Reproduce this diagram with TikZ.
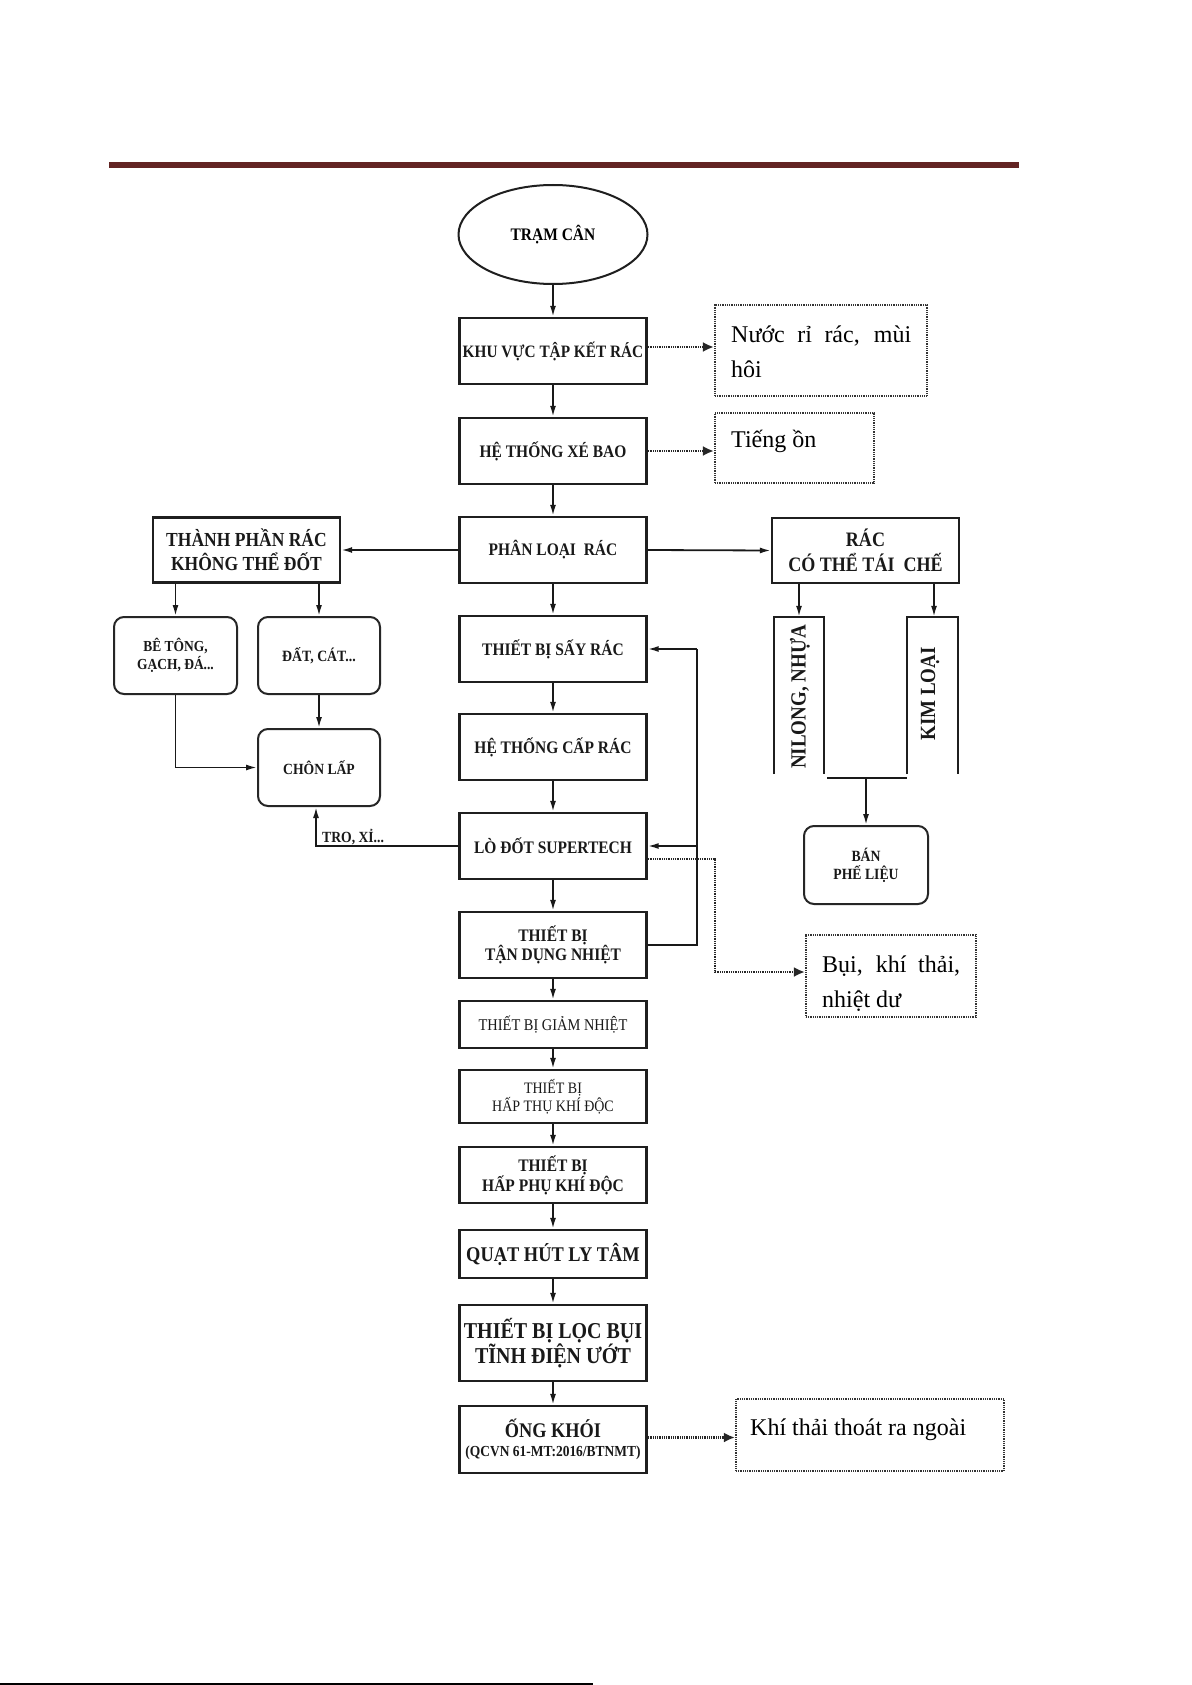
\documentclass[tikz,border=0pt]{standalone}
\usepackage{fontspec}
\setmainfont{Liberation Serif}
\newfontfamily\cond[FakeStretch=0.88]{Liberation Serif}
\usetikzlibrary{arrows.meta,shapes.geometric}
\newcommand{\fsz}[2]{\fontsize{#1}{#2}\selectfont}
\definecolor{hdr}{HTML}{632423}
\begin{document}
\begin{tikzpicture}[x=1pt,y=-1pt,
  mainbox/.style={draw=black!88, line width=2.4pt, minimum width=187pt, inner sep=0pt, align=center, text=black!90},
  rbox/.style={draw=black!85, line width=2pt, rounded corners=10pt, inner sep=0pt, align=center, text=black!90},
  dotbox/.style={draw=black!80, line width=2.2pt, dash pattern=on 0.9pt off 0.9pt, inner sep=0pt},
  arr/.style={draw=black!90, line width=1.8pt, -{Latex[length=11pt,width=6pt]}},
  plain/.style={draw=black!90, line width=1.8pt},
  darr/.style={draw=black!85, line width=2.2pt, dash pattern=on 0.9pt off 0.9pt, -{Latex[length=11pt,width=10pt]}},
  note/.style={inner sep=0pt, anchor=base west, font=\fsz{24}{28}},
]
\useasboundingbox (0,0) rectangle (1191,1685);
\fill[white] (0,0) rectangle (1191,1685);

% header rule
\fill[hdr] (109,162) rectangle (1019,168);

% main column
\node[ellipse, draw=black!88, line width=2pt, minimum width=189pt, minimum height=99pt, inner sep=0pt, font=\cond\bfseries\fsz{17.6}{20}] (tram) at (553,234.5) {TRẠM CÂN};
\node[mainbox, minimum height=66pt, font=\cond\bfseries\fsz{17.4}{19}] (khu) at (553,351) {KHU VỰC TẬP KẾT RÁC};
\node[mainbox, minimum height=66pt, font=\cond\bfseries\fsz{17.6}{19}] (xe) at (553,451) {HỆ THỐNG XÉ BAO};
\node[mainbox, minimum height=66pt, font=\cond\bfseries\fsz{17.6}{19}] (phan) at (553,550) {PHÂN LOẠI~~RÁC};
\node[mainbox, minimum height=66pt, font=\cond\bfseries\fsz{17.6}{19}] (say) at (553,649) {THIẾT BỊ SẤY RÁC};
\node[mainbox, minimum height=66pt, font=\cond\bfseries\fsz{17.6}{19}] (cap) at (553,747) {HỆ THỐNG CẤP RÁC};
\node[mainbox, minimum height=66pt, font=\cond\bfseries\fsz{17.6}{19}] (lo) at (553,846) {LÒ ĐỐT SUPERTECH};
\node[mainbox, minimum height=66pt, font=\cond\bfseries\fsz{17.6}{19.5}] (tan) at (553,945) {THIẾT BỊ\\TẬN DỤNG NHIỆT};
\node[mainbox, minimum height=47pt, font=\cond\fsz{16.4}{18}] (giam) at (553,1024.5) {THIẾT BỊ GIẢM NHIỆT};
\node[mainbox, minimum height=53pt, font=\cond\fsz{15.9}{17.7}] (hapthu) at (553,1096.5) {THIẾT BỊ\\HẤP THỤ KHÍ ĐỘC};
\node[mainbox, minimum height=56pt, font=\cond\bfseries\fsz{17.6}{19}] (happhu) at (553,1175) {THIẾT BỊ\\HẤP PHỤ KHÍ ĐỘC};
\node[mainbox, minimum height=48pt, font=\cond\bfseries\fsz{20.9}{22}] (quat) at (553,1254) {QUẠT HÚT LY TÂM};
\node[mainbox, minimum height=76pt, font=\cond\bfseries\fsz{22.7}{23}] (loc) at (553,1343) {THIẾT BỊ LỌC BỤI\\TĨNH ĐIỆN ƯỚT};
\node[mainbox, minimum height=67pt, font=\cond\bfseries\fsz{20.8}{19}] (ong) at (553,1439.5) {ỐNG KHÓI\\{\fsz{15.3}{18}(QCVN 61-MT:2016/BTNMT)}};

\draw[arr] (tram.south) -- (khu.north);
\draw[arr] (khu) -- (xe);
\draw[arr] (xe) -- (phan);
\draw[arr] (phan) -- (say);
\draw[arr] (say) -- (cap);
\draw[arr] (cap) -- (lo);
\draw[arr] (lo) -- (tan);
\draw[arr] (tan) -- (giam);
\draw[arr] (giam) -- (hapthu);
\draw[arr] (hapthu) -- (happhu);
\draw[arr] (happhu) -- (quat);
\draw[arr] (quat) -- (loc);
\draw[arr] (loc) -- (ong);

% left branch
\node[mainbox, minimum height=65pt, font=\cond\bfseries\fsz{19.9}{24}] (tp) at (246.5,550) {THÀNH PHẦN RÁC\\KHÔNG THỂ ĐỐT};
\node[rbox, minimum width=123pt, minimum height=77pt, font=\cond\bfseries\fsz{15.3}{18.3}] (be) at (175.5,655.5) {BÊ TÔNG,\\GẠCH, ĐÁ...};
\node[rbox, minimum width=122pt, minimum height=77pt, font=\cond\bfseries\fsz{15.7}{18}] (dat) at (319,655.5) {ĐẤT, CÁT...};
\node[rbox, minimum width=122pt, minimum height=77pt, font=\cond\bfseries\fsz{15.5}{18}] (chon) at (319,767.5) {CHÔN LẤP};
\node[inner sep=0pt, anchor=base west, font=\cond\bfseries\fsz{15.5}{16}, text=black!90] (tro) at (322,842) {TRO, XỈ...};

\draw[arr] (phan.west) -- (tp.east);
\draw[arr] (be.north |- tp.south) -- (be.north);
\draw[arr] (dat.north |- tp.south) -- (dat.north);
\draw[arr] (be.south) |- (chon.west);
\draw[arr] (dat) -- (chon);
\draw[arr] (lo.west) -| ([xshift=-3pt]chon.south);

% right branch
\node[mainbox, minimum height=65pt, font=\cond\bfseries\fsz{20.5}{25}] (tc) at (865.5,550.5) {RÁC\\CÓ THỂ TÁI~~CHẾ};
\node[minimum width=50pt, minimum height=157pt, inner sep=0pt] (nil) at (799,695.5) {};
\node[minimum width=51pt, minimum height=157pt, inner sep=0pt] (kim) at (932.5,695.5) {};
\draw[draw=black!88, line width=2.4pt] (nil.south west) -- (nil.north west) -- (nil.north east) -- (nil.south east);
\draw[draw=black!88, line width=2.4pt] (kim.south west) -- (kim.north west) -- (kim.north east) -- (kim.south east);
\node[rotate=90, inner sep=0pt, font=\cond\bfseries\fsz{21.6}{21}, text=black!90] (nilt) at (800,697) {NILONG, NHỰA};
\node[rotate=90, inner sep=0pt, font=\cond\bfseries\fsz{21.6}{21}, text=black!90] (kimt) at (930,694) {KIM LOẠI};
\node[rbox, minimum width=124pt, minimum height=78pt, font=\cond\bfseries\fsz{15.6}{18.3}] (ban) at (866,865) {BÁN\\PHẾ LIỆU};

\draw[arr] (phan.east) -- (tc.west);
\draw[arr] (nil.north |- tc.south) -- (nil.north);
\draw[arr] ([xshift=1.5pt]kim.north |- tc.south) -- ([xshift=1.5pt]kim.north);
\coordinate (jl) at (827,778);
\coordinate (jr) at (907,778);
\draw[draw=black!90, line width=1.5pt] (jl) -- (jr);
\draw[arr] (ban.north |- jl) -- (ban.north);

% feedback loop
\coordinate (fbt) at (697,649);
\coordinate (fbm) at (697,846);
\draw[plain] (tan.east) -| (fbt);
\draw[arr] (fbt) -- (say.east);
\draw[arr] (fbm) -- (lo.east);

% emission boxes
\node[dotbox, minimum width=212pt, minimum height=91pt] (nuoc) at (821,350.5) {};
\node[note] (nuoc1) at (731,342) {\makebox[180pt][s]{Nước rỉ rác, mùi}};
\node[note] (nuoc2) at (731,377) {hôi};
\node[dotbox, minimum width=159pt, minimum height=70pt] (tieng) at (794.5,448) {};
\node[note] (tieng1) at (731,447) {Tiếng ồn};
\node[dotbox, minimum width=170pt, minimum height=82pt] (bui) at (891,976) {};
\node[note] (bui1) at (822,972) {\makebox[138pt][s]{Bụi, khí thải,}};
\node[note] (bui2) at (822,1007) {nhiệt dư};
\node[dotbox, minimum width=268pt, minimum height=72pt] (khi) at (870,1435) {};
\node[note] (khi1) at (750,1435) {Khí thải thoát ra ngoài};

\draw[darr] ([yshift=4pt]khu.east) -- ([yshift=4pt]khu.east -| nuoc.west);
\draw[darr] (xe.east) -- (xe.east -| tieng.west);
\coordinate (dv) at (715,972);
\draw[darr] ([yshift=-13pt]lo.east) -| (dv) -- (dv -| bui.west);
\draw[darr] ([yshift=2pt]ong.east) -- ([yshift=2pt]ong.east -| khi.west);

% bottom scan line
\draw[line width=2pt] (0,1684) -- (593,1684);
\end{tikzpicture}
\end{document}
